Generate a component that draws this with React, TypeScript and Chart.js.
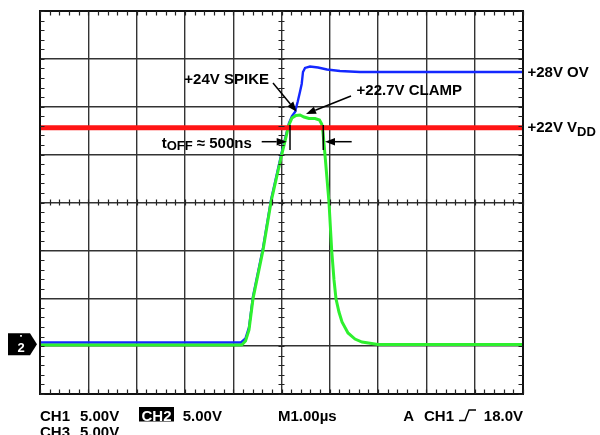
import React, { useEffect, useRef } from "react";
import { Chart, registerables } from "chart.js";

Chart.register(...registerables);

// Time axis: 1.00 µs / div, 10 divisions. Voltage axis: 5.00 V / div, 8 divisions, ground at 0 V.
const xRange = [0, 10];
const yRange = [-5, 35];
const xStep = 1;
const yStep = 5;

// CH2 (green) – output trace, µs / V
const greenT = [0, 4.176, 4.255, 4.327, 4.41, 4.617, 4.783, 5.004, 5.104, 5.145, 5.217, 5.3, 5.383, 5.466, 5.569, 5.694, 5.787, 5.832, 5.859, 5.901, 5.983, 6.039, 6.087, 6.128, 6.19, 6.253, 6.377, 6.522, 6.667, 6.998, 10];
const greenV = [0.12, 0.12, 0.54, 1.68, 4.95, 10.01, 15.05, 19.99, 22.05, 22.99, 23.83, 24.09, 24.14, 23.93, 23.77, 23.77, 23.62, 23.2, 22.36, 19.96, 15.05, 10.01, 6.91, 4.95, 3.56, 2.52, 1.37, 0.74, 0.43, 0.17, 0.17];

// CH1 (blue) – overvoltage input trace
const blueT = [0, 4.161, 4.255, 4.327, 4.41, 4.617, 4.783, 5.004, 5.104, 5.155, 5.217, 5.28, 5.335, 5.383, 5.418, 5.445, 5.487, 5.59, 5.756, 5.942, 6.211, 6.625, 10];
const blueV = [0.38, 0.38, 0.8, 1.95, 5.18, 10.25, 15.26, 20.22, 22.26, 23.3, 24.03, 24.45, 25.53, 26.57, 27.38, 28.63, 29.05, 29.2, 29.1, 28.89, 28.73, 28.63, 28.63];

// CH3 (red) – VDD supply
const redT = [0, 10];
const redV = [22.8, 22.8];

// Text labels
const rightLabels = ["+28V OV", "+22V V", "DD"];
const calloutLabels = ["+24V SPIKE", "+22.7V CLAMP", "t", "OFF", " \u2248 500ns"];
const bottomRow1 = ["CH1", "5.00V", "CH2", "5.00V", "M1.00\u00b5s", "A", "CH1", "18.0V"];
const bottomRow2 = ["CH3", "5.00V"];
const groundMarker = "2";

const FONT = "'Liberation Sans', Arial, Helvetica, sans-serif";

function toPts(t: number[], v: number[]) {
  return t.map((tt, i) => ({ x: tt, y: v[i] }));
}

function arrow(ctx: CanvasRenderingContext2D, x1: number, y1: number, x2: number, y2: number) {
  const ang = Math.atan2(y2 - y1, x2 - x1);
  const len = 10;
  const hw = 3.8;
  const bx = x2 - len * Math.cos(ang);
  const by = y2 - len * Math.sin(ang);
  ctx.beginPath();
  ctx.moveTo(x1, y1);
  ctx.lineTo(bx, by);
  ctx.stroke();
  ctx.beginPath();
  ctx.moveTo(x2, y2);
  ctx.lineTo(bx + hw * Math.sin(ang), by - hw * Math.cos(ang));
  ctx.lineTo(bx - hw * Math.sin(ang), by + hw * Math.cos(ang));
  ctx.closePath();
  ctx.fill();
}

const scopePlugin = {
  id: "scopeDecor",
  afterDatasetsDraw(chart: any) {
    const { ctx, chartArea: a, scales } = chart;
    const x = scales.x;
    const y = scales.y;
    const px = (v: number) => x.getPixelForValue(v);
    const py = (v: number) => y.getPixelForValue(v);
    ctx.save();

    // frame
    ctx.strokeStyle = "#111";
    ctx.lineWidth = 2;
    ctx.strokeRect(a.left, a.top, a.right - a.left, a.bottom - a.top);

    // minor ticks (5 per division) on frame and centre cross
    ctx.lineWidth = 1.2;
    ctx.strokeStyle = "#222";
    const xc = px((xRange[0] + xRange[1]) / 2);
    const yc = py((yRange[0] + yRange[1]) / 2);
    const nx = (xRange[1] - xRange[0]) * 5;
    ctx.beginPath();
    for (let i = 0; i <= nx; i++) {
      const p = Math.round(px(xRange[0] + i / 5)) + 0.5;
      ctx.moveTo(p, a.top); ctx.lineTo(p, a.top + 4.5);
      ctx.moveTo(p, a.bottom); ctx.lineTo(p, a.bottom - 4.5);
      ctx.moveTo(p, yc - 3); ctx.lineTo(p, yc + 3);
    }
    const ny = (yRange[1] - yRange[0]);
    for (let i = 0; i <= ny; i++) {
      const p = Math.round(py(yRange[0] + i)) + 0.5;
      ctx.moveTo(a.left, p); ctx.lineTo(a.left + 4.5, p);
      ctx.moveTo(a.right, p); ctx.lineTo(a.right - 4.5, p);
      ctx.moveTo(xc - 3, p); ctx.lineTo(xc + 3, p);
    }
    ctx.stroke();

    // call-outs
    ctx.fillStyle = "#000";
    ctx.strokeStyle = "#000";
    ctx.lineWidth = 1.5;
    ctx.textBaseline = "alphabetic";
    ctx.font = `bold 15px ${FONT}`;

    ctx.textAlign = "center";
    ctx.fillText(calloutLabels[0], px(3.865), py(27.38));
    arrow(ctx, px(4.824), py(27.48), px(5.315), py(24.48));

    ctx.fillText(calloutLabels[1], px(7.646), py(26.23));
    arrow(ctx, px(6.439), py(26.12), px(5.507), py(24.24));

    // t_OFF
    ctx.textAlign = "left";
    let tx = px(2.52);
    const tb = py(20.72);
    ctx.font = `bold 15px ${FONT}`;
    ctx.fillText(calloutLabels[2], tx, tb);
    tx += ctx.measureText(calloutLabels[2]).width;
    ctx.font = `bold 13px ${FONT}`;
    ctx.fillText(calloutLabels[3], tx, tb + 2.5);
    tx += ctx.measureText(calloutLabels[3]).width;
    ctx.font = `bold 15px ${FONT}`;
    ctx.fillText(calloutLabels[4], tx, tb);

    arrow(ctx, px(4.59), py(21.35), px(5.108), py(21.35));
    arrow(ctx, px(6.453), py(21.35), px(5.901), py(21.35));
    ctx.beginPath();
    ctx.moveTo(px(5.176), py(23.09)); ctx.lineTo(px(5.176), py(20.48));
    ctx.moveTo(px(5.865), py(23.09)); ctx.lineTo(px(5.865), py(20.48));
    ctx.stroke();

    // right-hand labels
    ctx.font = `bold 15px ${FONT}`;
    const rx = a.right + 4.5;
    ctx.fillText(rightLabels[0], rx, py(28.14));
    ctx.fillText(rightLabels[1], rx, py(22.36));
    const w1 = ctx.measureText(rightLabels[1]).width;
    ctx.font = `bold 13px ${FONT}`;
    ctx.fillText(rightLabels[2], rx + w1, py(21.98));

    // ground marker for channel 2
    const gy = py(0) - 2;
    ctx.fillStyle = "#000";
    ctx.beginPath();
    ctx.moveTo(a.left - 32, gy - 11);
    ctx.lineTo(a.left - 10, gy - 11);
    ctx.lineTo(a.left - 3, gy);
    ctx.lineTo(a.left - 10, gy + 11);
    ctx.lineTo(a.left - 32, gy + 11);
    ctx.closePath();
    ctx.fill();
    ctx.fillStyle = "#fff";
    ctx.font = `bold 13px ${FONT}`;
    ctx.textAlign = "center";
    ctx.fillText(groundMarker, a.left - 19, gy + 8);
    ctx.fillRect(a.left - 20, gy - 9, 2, 1.5);

    // bottom status rows
    ctx.textAlign = "left";
    ctx.font = `bold 15px ${FONT}`;
    ctx.fillStyle = "#000";
    const b1 = a.bottom + 27;
    const b2 = a.bottom + 43;
    ctx.fillText(bottomRow1[0], a.left, b1);
    ctx.fillText(bottomRow1[1], a.left + 40, b1);
    // inverted CH2 box
    ctx.fillRect(a.left + 99, a.bottom + 13, 35, 14.5);
    ctx.fillStyle = "#fff";
    ctx.textAlign = "center";
    ctx.fillText(bottomRow1[2], a.left + 116.5, b1);
    ctx.fillStyle = "#000";
    ctx.textAlign = "left";
    ctx.fillText(bottomRow1[3], a.left + 142.7, b1);
    ctx.fillText(bottomRow1[4], a.left + 238, b1);
    ctx.fillText(bottomRow1[5], a.left + 363.3, b1);
    ctx.fillText(bottomRow1[6], a.left + 384, b1);
    // rising edge trigger symbol
    ctx.lineWidth = 1.4;
    ctx.beginPath();
    const sx = a.left + 419;
    ctx.moveTo(sx, b1 - 0.5);
    ctx.lineTo(sx + 6, b1 - 0.5);
    ctx.lineTo(sx + 10, b1 - 11);
    ctx.lineTo(sx + 17, b1 - 11);
    ctx.stroke();
    ctx.textAlign = "right";
    ctx.fillText(bottomRow1[7], a.right, b1);
    ctx.textAlign = "left";
    ctx.fillText(bottomRow2[0], a.left, b2);
    ctx.fillText(bottomRow2[1], a.left + 40, b2);

    ctx.restore();
  },
};

export default function App() {
  const ref = useRef<HTMLCanvasElement>(null);
  useEffect(() => {
    const canvas = ref.current;
    if (!canvas) return;
    const chart = new Chart(canvas, {
      type: "line",
      data: {
        datasets: [
          {
            label: "CH3",
            data: toPts(redT, redV),
            borderColor: "#ff1414",
            borderWidth: 5,
            pointRadius: 0,
            tension: 0,
            order: 0,
          },
          {
            label: "CH2",
            data: toPts(greenT, greenV),
            borderColor: "#2ef02e",
            borderWidth: 3,
            pointRadius: 0,
            tension: 0,
            order: 1,
          },
          {
            label: "CH1",
            data: toPts(blueT, blueV),
            borderColor: "#1428ff",
            borderWidth: 2.4,
            pointRadius: 0,
            tension: 0,
            order: 2,
          },
        ],
      },
      options: {
        animation: false,
        responsive: false,
        devicePixelRatio: 1,
        layout: { padding: { left: 40, top: 11, right: 77, bottom: 41 } },
        plugins: { legend: { display: false }, tooltip: { enabled: false } },
        events: [],
        scales: {
          x: {
            type: "linear",
            min: xRange[0],
            max: xRange[1],
            ticks: { display: false, stepSize: xStep },
            grid: { color: "#333", lineWidth: 1.4, drawTicks: false },
            border: { display: false },
          },
          y: {
            type: "linear",
            min: yRange[0],
            max: yRange[1],
            ticks: { display: false, stepSize: yStep },
            grid: { color: "#333", lineWidth: 1.4, drawTicks: false },
            border: { display: false },
          },
        },
      },
      plugins: [scopePlugin],
    });
    return () => chart.destroy();
  }, []);
  return (
    <div style={{ position: "fixed", left: 0, top: 0, width: 600, height: 435, background: "#fff" }}>
      <canvas ref={ref} width={600} height={435} style={{ display: "block", width: 600, height: 435 }} />
    </div>
  );
}
